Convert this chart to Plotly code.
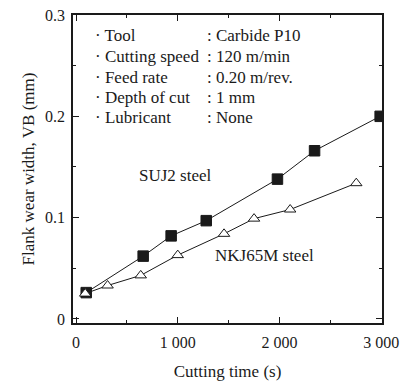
import plotly.graph_objects as go

# Data
suj2_time = [100, 660, 935, 1280, 1980, 2345, 2990]
suj2_vb = [0.026, 0.062, 0.082, 0.097, 0.138, 0.166, 0.200]
nkj_time = [90, 310, 636, 1000, 1455, 1750, 2105, 2755]
nkj_vb = [0.025, 0.033, 0.043, 0.063, 0.084, 0.099, 0.108, 0.134]

x_tickvals = [0, 1000, 2000, 3000]
x_ticktext = ["0", "1 000", "2 000", "3 000"]
y_tickvals = [0, 0.1, 0.2, 0.3]
y_ticktext = ["0", "0.1", "0.2", "0.3"]

cond_labels = ["\u00b7 Tool", "\u00b7 Cutting speed", "\u00b7 Feed rate", "\u00b7 Depth of cut", "\u00b7 Lubricant"]
cond_values = [": Carbide P10", ": 120 m/min", ": 0.20 m/rev.", ": 1 mm", ": None"]

FONT = "Liberation Serif"
INK = "#1a1a1a"

W, H = 405, 381
L, R, T, B = 73, 23, 15, 58
pw = W - L - R
ph = H - T - B

def px(xp):
    return (xp - L) / pw

def py(yp):
    return 1 - (yp - T) / ph

fig = go.Figure()
fig.add_trace(go.Scatter(
    x=suj2_time, y=suj2_vb, mode="lines+markers",
    line=dict(color=INK, width=1),
    marker=dict(symbol="square", size=10.5, color=INK, line=dict(color=INK, width=1)),
    showlegend=False))
fig.add_trace(go.Scatter(
    x=nkj_time, y=nkj_vb, mode="lines+markers",
    line=dict(color=INK, width=1),
    marker=dict(symbol="triangle-up", size=10, color="white", line=dict(color=INK, width=1)),
    showlegend=False))

annotations = []
line_y = [36.0, 56.5, 77.0, 97.5, 118.0]
for lab, val, yy in zip(cond_labels, cond_values, line_y):
    annotations.append(dict(x=px(93), y=py(yy), xref="paper", yref="paper", text=lab,
                            showarrow=False, xanchor="left", yanchor="middle",
                            font=dict(family=FONT, size=17, color=INK)))
    annotations.append(dict(x=px(205), y=py(yy), xref="paper", yref="paper", text=val,
                            showarrow=False, xanchor="left", yanchor="middle",
                            font=dict(family=FONT, size=17, color=INK)))
annotations.append(dict(x=px(175), y=py(175.5), xref="paper", yref="paper", text="SUJ2 steel",
                        showarrow=False, xanchor="center", yanchor="middle",
                        font=dict(family=FONT, size=17, color=INK)))
annotations.append(dict(x=px(264), y=py(255.5), xref="paper", yref="paper", text="NKJ65M steel",
                        showarrow=False, xanchor="center", yanchor="middle",
                        font=dict(family=FONT, size=17, color=INK)))

fig.update_layout(
    width=W, height=H,
    margin=dict(l=L, r=R, t=T, b=B, autoexpand=False),
    paper_bgcolor="white", plot_bgcolor="white",
    font=dict(family=FONT, size=16, color=INK),
    annotations=annotations,
    xaxis=dict(
        range=[-30, 3008], tickvals=x_tickvals, ticktext=x_ticktext,
        ticks="inside", ticklen=6, tickwidth=1, tickcolor=INK,
        showline=True, linecolor=INK, linewidth=1.5, mirror="ticks",
        showgrid=False, zeroline=False, ticklabelstandoff=4,
        minor=dict(ticks="inside", ticklen=3, dtick=500, tick0=0, tickcolor=INK, showgrid=False),
        tickfont=dict(family=FONT, size=16, color=INK),
        automargin=False,
        title=dict(text="Cutting time (s)", font=dict(family=FONT, size=17, color=INK), standoff=15),
    ),
    yaxis=dict(
        range=[-0.004, 0.3], tickvals=y_tickvals, ticktext=y_ticktext,
        ticks="inside", ticklen=6, tickwidth=1, tickcolor=INK,
        showline=True, linecolor=INK, linewidth=1.5, mirror="ticks",
        showgrid=False, zeroline=False, ticklabelstandoff=3,
        minor=dict(ticks="inside", ticklen=3, dtick=0.05, tick0=0, tickcolor=INK, showgrid=False),
        tickfont=dict(family=FONT, size=16, color=INK),
        automargin=False,
        title=dict(text="Flank wear width, VB (mm)", font=dict(family=FONT, size=17, color=INK), standoff=6),
    ),
)

fig.write_html("out.html")
